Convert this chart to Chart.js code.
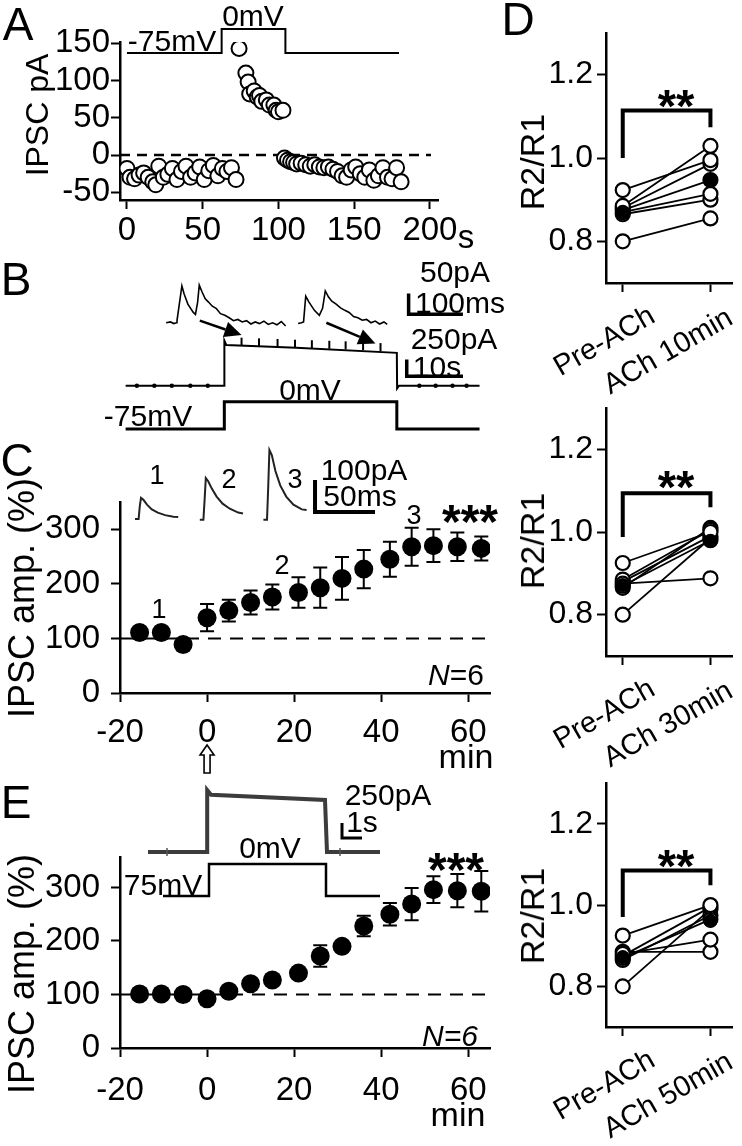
<!DOCTYPE html>
<html>
<head>
<meta charset="utf-8">
<script src="https://cdn.jsdelivr.net/npm/chart.js@4"></script>
<style>
  body { margin: 0; background: #fff; }
  #fig { position: relative; width: 742px; height: 1146px; overflow: hidden; font-family: 'Liberation Sans', Arial, sans-serif; color: #000; }
  #fig canvas { position: absolute; }
  .t { position: absolute; white-space: nowrap; line-height: 1; transform: translate(-50%, -50%); }
</style>
</head>
<body>
<div id="fig">
  <canvas id="cA" width="460" height="250" style="left:0;top:0"></canvas>
  <canvas id="cB" width="400" height="200" style="left:100px;top:250px"></canvas>
  <canvas id="cC" width="520" height="350" style="left:0;top:430px"></canvas>
  <canvas id="cE" width="520" height="376" style="left:0;top:770px"></canvas>
  <canvas id="cD1" width="242" height="400" style="left:500px;top:0"></canvas>
  <canvas id="cD2" width="242" height="400" style="left:500px;top:380px"></canvas>
  <canvas id="cD3" width="242" height="386" style="left:500px;top:760px"></canvas>
</div>
<script>
// ===== DATA =====

// A: IPSC amplitude (pA) vs time (s), holding potential switched -75 -> 0 -> -75 mV
const A_PRE_T  = [0, 2, 5, 8, 11, 14, 17, 19, 21, 24, 27, 30, 33, 36, 39, 42, 45, 48, 51, 54, 57, 60, 63, 66, 69, 72];
const A_PRE_PA = [-18, -30, -32, -27, -24, -30, -36, -40, -15, -30, -26, -18, -33, -22, -15, -30, -24, -16, -33, -21, -14, -28, -18, -22, -17, -33];
const A_HOLD_T  = [74, 78.5, 80, 81, 84, 86, 87.5, 89, 92, 94, 97, 98.5, 100, 103];
const A_HOLD_PA = [143, 110, 98, 82, 86, 78, 80, 72, 74, 67, 67, 60, 58, 60];
const A_POST_T  = [104, 106, 108, 110, 112, 115, 118, 121, 124, 127, 130, 133, 136, 139, 142, 145, 148, 151, 154, 157, 160, 163, 166, 169, 172, 175, 178, 181];
const A_POST_PA = [-4, -7, -9, -10, -12, -11, -13, -15, -13, -16, -17, -16, -19, -22, -28, -30, -20, -16, -25, -30, -20, -34, -28, -17, -30, -32, -17, -36];
const A_STEP_T  = [0, 62.5, 62.5, 104.6, 104.6, 179.6];
const A_STEP_MV = [-75, -75, 0, 0, -75, -75];
const A_X_TICKS = [0, 50, 100, 150, 200];
const A_Y_TICKS = [-50, 0, 50, 100, 150];

// B: example current trace (s, pA), holding step (mV), expanded sweeps (ms, pA)
const B_TRACE_T  = [-0.3, 17.2, 17.25, 17.6, 30, 47.9, 47.95, 48.3, 62.6];
const B_TRACE_PA = [0, 0, 667, 600, 560, 486, -40, 0, 0];
const B_TOP_EVENT_T  = [20.3, 23.4, 26.7, 29.8, 32.8, 35.9, 38.8, 41.9, 45.0];
const B_TOP_EVENT_PA = [651, 641, 631, 621, 613, 605, 597, 584, 571];
const B_BASE_EVENT_T  = [1.7, 4.8, 7.9, 11.2, 14.3, 51.9, 54.8, 57.8, 60.3];
const B_BASE_EVENT_PA = [0, 0, 0, 0, 0, 0, 0, 0, 0];
const B_STEP_T  = [-0.3, 17.24, 17.24, 47.9, 47.9, 62.6];
const B_STEP_MV = [-75, -75, 0, 0, -75, -75];
const B_SWEEP1_MS = [0, 8, 14, 19, 20, 29, 33, 40, 50, 54, 58, 61, 66, 72, 78, 85, 92, 100, 108, 116, 124, 132, 140, 148, 156, 164, 172, 180, 188, 196, 204, 212, 220];
const B_SWEEP1_PA = [0, 2, -2, 0, 5, 89, 70, 45, 25, 20, 50, 91, 75, 58, 50, 40, 35, 22, 18, 12, 5, 8, 2, 5, -3, 2, -2, 4, -4, 0, -5, 3, -8];
const B_SWEEP2_MS = [243, 249, 253, 257, 263, 273, 282, 288, 293, 299, 305, 313, 321, 329, 337, 345, 353, 361, 369, 377, 385, 393, 401, 407];
const B_SWEEP2_PA = [-2, 0, 2, 64, 50, 30, 18, 35, 77, 62, 52, 45, 36, 30, 25, 15, 12, 6, 8, 0, 4, -3, 2, -4];
const B_ARROW_FROM_MS = [62, 295];
const B_ARROW_FROM_PA = [5, 0];
const B_ARROW_TO_S  = [20.3, 44.1];
const B_ARROW_TO_PA = [750, 625];
const B_BAR_S  = [59.66, 49.66, 49.66];
const B_BAR_PA = [139, 139, 389];
const B_IBAR_MS = [546.4, 446.4, 446.4];
const B_IBAR_PA = [20.5, 20.5, 70.5];

// C: normalized IPSC amplitude (%) vs time (min), mean +/- SEM
const C_T    = [-15.5, -10.5, -5.5, 0, 5, 10, 15, 21, 26, 31, 36, 42, 47, 52, 57.5, 63];
const C_MEAN = [111, 111, 89, 138, 151, 166, 176, 184, 193, 210, 227, 245, 268, 270, 268, 265];
const C_SEM  = [5, 5, 5, 25, 20, 22, 23, 28, 37, 39, 35, 32, 35, 30, 26, 22];
const C_SWEEP_MS = [0, 3, 4, 5, 7, 10, 14, 19, 25, 32, 36];
const C_SWEEP1_PA = [0, 0, 40, 66, 60, 45, 30, 20, 12, 7, 6];
const C_SWEEP2_PA = [-2, -2, 60, 128, 118, 95, 70, 48, 32, 20, 17];
const C_SWEEP3_PA = [-2, -2, 100, 216, 200, 150, 105, 70, 45, 30, 28];
const C_SWEEP_OFFSET_MS = [0, 54, 107];
const C_BAR_MS = [200, 150, 150];
const C_BAR_PA = [22, 22, 122];
const X_TICKS_MIN = [-20, 0, 20, 40, 60];
const Y_TICKS_PCT = [0, 100, 200, 300];

// E: normalized IPSC amplitude (%) vs time (min), mean +/- SEM
const E_T    = [-15.5, -10.5, -5.5, 0, 5, 10, 15, 21, 26, 31, 36, 42, 47, 52, 57.5, 63];
const E_MEAN = [101, 101, 100, 92, 106, 120, 127, 140, 172, 190, 228, 250, 269, 296, 294, 293];
const E_SEM  = [3, 3, 3, 3, 3, 4, 4, 5, 20, 8, 19, 21, 30, 25, 31, 38];
const E_TRACE_T  = [0, 2.95, 2.96, 3.15, 8.85, 8.95, 11.6];
const E_TRACE_PA = [0, 0, 1033, 955, 867, 0, 0];
const E_MARK_T  = [0.95, 5.0, 7.1, 9.6];
const E_MARK_PA = [0, 930, 895, 0];
const E_STEP_T  = [0.75, 3.05, 3.05, 8.9, 8.9, 11.6];
const E_STEP_MV = [-75, -75, 0, 0, -75, -75];
const E_BAR_S  = [10.7, 9.7, 9.7];
const E_BAR_PA = [233, 233, 483];

// D: paired-pulse ratio R2/R1 per cell, before and after ACh
const D_CATS = ['Pre-ACh', 'ACh 10min', 'ACh 30min', 'ACh 50min'];
const D1_PRE  = [0.923, 0.885, 0.88, 0.875, 0.87, 0.865, 0.80];
const D1_POST = [0.995, 1.029, 0.986, 0.947, 0.914, 0.90, 0.855];
const D1_MEAN = [0.871, 0.947];
const D2_PRE  = [0.925, 0.875, 0.885, 0.88, 0.87, 0.865, 0.80];
const D2_POST = [1.0, 0.888, 1.005, 0.99, 0.98, 1.01, 0.985];
const D2_MEAN = [0.872, 0.979];
const D3_PRE  = [0.925, 0.88, 0.885, 0.875, 0.87, 0.865, 0.80];
const D3_POST = [1.0, 0.915, 0.885, 0.995, 0.965, 0.975, 0.99];
const D3_MEAN = [0.872, 0.961];
const D_Y_TICKS = [0.8, 1.0, 1.2];
const D_BRACKET = [[1.0, 1.114, 1.074], [0.988, 1.094, 1.06], [0.971, 1.085, 1.049]];

// ===== HELPERS =====
const BLACK = '#000';
const FONT = "'Liberation Sans', Arial, sans-serif";
Chart.defaults.font.family = FONT;
Chart.defaults.color = BLACK;

const xy = (xs, ys) => xs.map((x, i) => ({ x, y: ys[i] }));

function shownAxis(position, min, max, ticks, size, o = {}) {
  return {
    type: 'linear', position, min, max,
    afterBuildTicks: s => { s.ticks = ticks.map(v => ({ value: v })); },
    afterFit: s => { if (position === 'left') s.width = size; else s.height = size; },
    border: { display: true, color: BLACK, width: 2.5 },
    grid: { drawOnChartArea: false, tickLength: o.tickLength || 9, tickWidth: 2, tickColor: BLACK },
    ticks: {
      display: o.labels !== false, font: { size: o.font || 33 }, color: BLACK,
      padding: o.padding || 0, autoSkip: false, maxRotation: 0, minRotation: 0,
      callback: o.fmt || (v => String(v))
    }
  };
}
const hiddenAxis = (position, min, max) => ({ type: 'linear', display: false, position, min, max });

function line(data, o) {
  return Object.assign({ data, showLine: true, pointRadius: 0, borderColor: BLACK, borderWidth: 2, clip: false, tension: 0 }, o);
}
function openPts(data, r) {
  return { data, pointRadius: r, pointBorderWidth: 2, pointBorderColor: BLACK, pointBackgroundColor: '#fff', showLine: false };
}
function filledPts(data, r) {
  return { data, pointRadius: r, pointBorderWidth: 0, pointBackgroundColor: BLACK, showLine: false };
}

function makeChart(id, datasets, scales, padding, plugins) {
  return new Chart(document.getElementById(id), {
    type: 'scatter',
    data: { datasets },
    options: {
      responsive: false, animation: false, devicePixelRatio: 1, events: [],
      layout: { padding },
      scales,
      plugins: { legend: { display: false }, tooltip: { enabled: false } }
    },
    plugins: plugins || []
  });
}

function errorBars(ts, means, sems) {
  return {
    id: 'errorBars',
    beforeDatasetsDraw(chart) {
      const { ctx, scales: { x, y } } = chart;
      ctx.save();
      ctx.strokeStyle = BLACK; ctx.lineWidth = 2;
      ts.forEach((t, i) => {
        const px = x.getPixelForValue(t);
        const top = y.getPixelForValue(means[i] + sems[i]);
        const bot = y.getPixelForValue(means[i] - sems[i]);
        ctx.beginPath();
        ctx.moveTo(px, top); ctx.lineTo(px, bot);
        ctx.moveTo(px - 7, top); ctx.lineTo(px + 7, top);
        ctx.moveTo(px - 7, bot); ctx.lineTo(px + 7, bot);
        ctx.stroke();
      });
      ctx.restore();
    }
  };
}

// ===== PANEL A =====
makeChart('cA', [
  openPts(xy(A_PRE_T, A_PRE_PA), 7.5),
  openPts(xy(A_HOLD_T, A_HOLD_PA), 7.5),
  openPts(xy(A_POST_T, A_POST_PA), 7.5),
  line([{ x: -4.6, y: 0 }, { x: 200.7, y: 0 }], { borderDash: [10, 7], borderWidth: 2.5 }),
  line(xy(A_STEP_T, A_STEP_MV), { yAxisID: 'yv', borderWidth: 2 })
], {
  x: shownAxis('bottom', -4.6, 205.9, A_X_TICKS, 50, { padding: 2 }),
  y: shownAxis('left', -60.4, 151.7, A_Y_TICKS, 120, { padding: 1 }),
  yv: hiddenAxis('left', -534.4, -40.6)
}, { top: 42, right: 20, left: 0, bottom: 0 });

// ===== PANEL B =====
const arrowPlugin = {
  id: 'arrows',
  afterDatasetsDraw(chart) {
    const { ctx, scales: { xb, yb, xi, yi } } = chart;
    ctx.save();
    ctx.strokeStyle = BLACK; ctx.fillStyle = BLACK; ctx.lineWidth = 2.5;
    B_ARROW_FROM_MS.forEach((ms, i) => {
      const x0 = xi.getPixelForValue(ms), y0 = yi.getPixelForValue(B_ARROW_FROM_PA[i]);
      const x1 = xb.getPixelForValue(B_ARROW_TO_S[i]), y1 = yb.getPixelForValue(B_ARROW_TO_PA[i]);
      const a = Math.atan2(y1 - y0, x1 - x0), head = 17, half = 8;
      const bx = x1 - head * Math.cos(a), by = y1 - head * Math.sin(a);
      ctx.beginPath(); ctx.moveTo(x0, y0); ctx.lineTo(bx, by); ctx.stroke();
      ctx.beginPath();
      ctx.moveTo(x1, y1);
      ctx.lineTo(bx + half * Math.sin(a), by - half * Math.cos(a));
      ctx.lineTo(bx - half * Math.sin(a), by + half * Math.cos(a));
      ctx.closePath(); ctx.fill();
    });
    ctx.restore();
  }
};
makeChart('cB', [
  { data: xy(B_BASE_EVENT_T, B_BASE_EVENT_PA), xAxisID: 'xb', yAxisID: 'yb', pointRadius: 2.2, pointBackgroundColor: BLACK, pointBorderWidth: 0, clip: false },
  { data: xy(B_TOP_EVENT_T, B_TOP_EVENT_PA), xAxisID: 'xb', yAxisID: 'yb', pointStyle: 'line', pointRotation: 90, pointRadius: 4, pointBorderColor: BLACK, pointBorderWidth: 2, clip: false },
  line(xy(B_TRACE_T, B_TRACE_PA), { xAxisID: 'xb', yAxisID: 'yb', borderWidth: 2 }),
  line(xy(B_STEP_T, B_STEP_MV), { xAxisID: 'xb', yAxisID: 'yv', borderWidth: 3 }),
  line(xy(B_SWEEP1_MS, B_SWEEP1_PA), { xAxisID: 'xi', yAxisID: 'yi', borderWidth: 1.6 }),
  line(xy(B_SWEEP2_MS, B_SWEEP2_PA), { xAxisID: 'xi', yAxisID: 'yi', borderWidth: 1.6 }),
  line(xy(B_BAR_S, B_BAR_PA), { xAxisID: 'xb', yAxisID: 'yb', borderWidth: 3.5 }),
  line(xy(B_IBAR_MS, B_IBAR_PA), { xAxisID: 'xi', yAxisID: 'yi', borderWidth: 3.5 })
], {
  xb: hiddenAxis('bottom', -3.79, 65.17),
  yb: hiddenAxis('left', -861.1, 1916.7),
  yv: hiddenAxis('left', -116.4, 400.8),
  xi: hiddenAxis('bottom', -110.7, 603.6),
  yi: hiddenAxis('left', -293.2, 161.4)
}, 0, [arrowPlugin]);

// ===== PANEL C =====
const upArrowPlugin = {
  id: 'upArrow',
  afterDraw(chart) {
    const { ctx, chartArea, scales: { x } } = chart;
    const px = x.getPixelForValue(0), y0 = chartArea.bottom + 52;
    ctx.save();
    ctx.strokeStyle = BLACK; ctx.lineWidth = 1.6; ctx.fillStyle = '#fff';
    ctx.beginPath();
    ctx.moveTo(px, y0); ctx.lineTo(px + 7, y0 + 10); ctx.lineTo(px + 3, y0 + 10);
    ctx.lineTo(px + 3, y0 + 28); ctx.lineTo(px - 3, y0 + 28); ctx.lineTo(px - 3, y0 + 10);
    ctx.lineTo(px - 7, y0 + 10); ctx.closePath(); ctx.fill(); ctx.stroke();
    ctx.restore();
  }
};
makeChart('cC', [
  filledPts(xy(C_T, C_MEAN), 9.5),
  line([{ x: -20, y: 100 }, { x: 65, y: 100 }], { borderDash: [13, 9], borderWidth: 2 }),
  line(xy(C_SWEEP_MS.map(t => t + C_SWEEP_OFFSET_MS[0]), C_SWEEP1_PA), { xAxisID: 'xi', yAxisID: 'yi', borderColor: '#222' }),
  line(xy(C_SWEEP_MS.map(t => t + C_SWEEP_OFFSET_MS[1]), C_SWEEP2_PA), { xAxisID: 'xi', yAxisID: 'yi', borderColor: '#222' }),
  line(xy(C_SWEEP_MS.map(t => t + C_SWEEP_OFFSET_MS[2]), C_SWEEP3_PA), { xAxisID: 'xi', yAxisID: 'yi', borderColor: '#222' }),
  line(xy(C_BAR_MS, C_BAR_PA), { xAxisID: 'xi', yAxisID: 'yi', borderWidth: 4 })
], {
  x: shownAxis('bottom', -20, 65, X_TICKS_MIN, 87, { padding: 11 }),
  y: shownAxis('left', 0, 350, Y_TICKS_PCT, 120, { padding: 11 }),
  xi: hiddenAxis('bottom', -12.5, 295.8),
  yi: hiddenAxis('left', -543.75, 53.1)
}, { top: 72, right: 30, left: 0, bottom: 0 }, [errorBars(C_T, C_MEAN, C_SEM), upArrowPlugin]);

// ===== PANEL E =====
makeChart('cE', [
  filledPts(xy(E_T, E_MEAN), 9.5),
  line([{ x: -20, y: 100 }, { x: 65, y: 100 }], { borderDash: [13, 9], borderWidth: 2 }),
  { data: xy(E_MARK_T, E_MARK_PA), xAxisID: 'xe', yAxisID: 'ye', pointStyle: 'line', pointRotation: 90, pointRadius: 4, pointBorderColor: '#555', pointBorderWidth: 1.5, clip: false },
  line(xy(E_TRACE_T, E_TRACE_PA), { xAxisID: 'xe', yAxisID: 'ye', borderColor: '#3c3c3c', borderWidth: 4 }),
  line(xy(E_STEP_T, E_STEP_MV), { xAxisID: 'xe', yAxisID: 'yv', borderWidth: 2.5 }),
  line(xy(E_BAR_S, E_BAR_PA), { xAxisID: 'xe', yAxisID: 'ye', borderWidth: 3 })
], {
  x: shownAxis('bottom', -20, 65, X_TICKS_MIN, 98, { padding: 14 }),
  y: shownAxis('left', 0, 357, Y_TICKS_PCT, 120, { padding: 11 }),
  xe: hiddenAxis('bottom', -1.4, 17.1),
  ye: hiddenAxis('left', -3267, -83.3),
  yv: hiddenAxis('left', -431.2, 16.4)
}, { top: 87, right: 30, left: 0, bottom: 0 }, [errorBars(E_T, E_MEAN, E_SEM)]);

// ===== PANEL D =====
function dPanel(id, pre, post, mean, postLabel, bracket, padTop, xHeight) {
  const pairs = pre.map((v, i) => ({
    data: [{ x: 0, y: v }, { x: 1, y: post[i] }], showLine: true, borderColor: BLACK, borderWidth: 1.8,
    pointRadius: 7, pointBorderWidth: 2.2, pointBorderColor: BLACK, pointBackgroundColor: '#fff'
  }));
  const labels = [D_CATS[0], postLabel];
  const decor = {
    id: 'decor',
    afterDraw(chart) {
      const { ctx, chartArea, scales: { x, y } } = chart;
      const x0 = x.getPixelForValue(0), x1 = x.getPixelForValue(1);
      ctx.save();
      ctx.strokeStyle = BLACK; ctx.lineWidth = 4; ctx.lineCap = 'butt';
      ctx.beginPath();
      ctx.moveTo(x0, y.getPixelForValue(bracket[0]));
      ctx.lineTo(x0, y.getPixelForValue(bracket[1]));
      ctx.lineTo(x1, y.getPixelForValue(bracket[1]));
      ctx.lineTo(x1, y.getPixelForValue(bracket[2]));
      ctx.stroke();
      ctx.fillStyle = BLACK; ctx.font = '29px ' + FONT;
      ctx.textAlign = 'right'; ctx.textBaseline = 'alphabetic';
      const offs = [[34, 38], [24, 40]];
      labels.forEach((lab, i) => {
        ctx.save();
        ctx.translate(x.getPixelForValue(i) + offs[i][0], chartArea.bottom + offs[i][1]);
        ctx.rotate(-Math.PI / 6);
        ctx.fillText(lab, 0, 0);
        ctx.restore();
      });
      ctx.restore();
    }
  };
  makeChart(id, [filledPts(xy([0, 1], mean), 7), ...pairs], {
    x: shownAxis('bottom', -0.191, 1.255, [0, 1], xHeight, { labels: false }),
    y: shownAxis('left', 0.7, 1.3, D_Y_TICKS, 106, { padding: 4, font: 32, fmt: v => v.toFixed(1) })
  }, { top: padTop, right: 0, left: 0, bottom: 0 }, [decor]);
}
dPanel('cD1', D1_PRE, D1_POST, D1_MEAN, D_CATS[1], D_BRACKET[0], 33, 117);
dPanel('cD2', D2_PRE, D2_POST, D2_MEAN, D_CATS[2], D_BRACKET[1], 28, 124);
dPanel('cD3', D3_PRE, D3_POST, D3_MEAN, D_CATS[3], D_BRACKET[2], 18, 119);

// ===== TEXT =====
const fig = document.getElementById('fig');
function addText(html, x, y, size, extra) {
  const d = document.createElement('div');
  d.className = 't';
  d.innerHTML = html;
  d.style.left = x + 'px';
  d.style.top = y + 'px';
  d.style.fontSize = size + 'px';
  if (extra) Object.assign(d.style, extra);
  fig.appendChild(d);
}
const ROT = { transform: 'translate(-50%, -50%) rotate(-90deg)' };
const BOLD = { fontWeight: 'bold' };

// panel letters
addText('A', 18, 24, 46); addText('B', 16, 279, 46); addText('C', 17, 460, 46);
addText('D', 518, 19, 46); addText('E', 16, 802, 46);

// A
addText('IPSC pA', 37, 115, 32, ROT);
addText('-75mV', 172, 41, 30); addText('0mV', 253, 16, 30);
addText('s', 466, 236, 33);

// B
addText('50pA', 455, 272, 30); addText('100ms', 460, 303, 30);
addText('250pA', 454, 339, 30); addText('10s', 437, 367, 30);
addText('0mV', 310, 390, 30); addText('-75mV', 148, 416, 30);

// C
addText('IPSC amp. (%)', 22, 598, 36, ROT);
addText('1', 157, 475, 27); addText('2', 229, 479, 27); addText('3', 295, 479, 27);
addText('100pA', 364, 470, 30); addText('50ms', 360, 496, 30);
addText('1', 159, 609, 27); addText('2', 282, 565, 27); addText('3', 414, 515, 27);
addText('***', 470, 522, 48, BOLD);
addText('<i>N</i>=6', 456, 675, 30);
addText('min', 466, 756, 34);

// E
addText('IPSC amp. (%)', 22, 974, 36, ROT);
addText('250pA', 388, 795, 30); addText('1s', 362, 822, 30);
addText('0mV', 270, 848, 30); addText('75mV', 163, 885, 30);
addText('***', 456, 870, 48, BOLD);
addText('<i>N=6</i>', 450, 1036, 30);
addText('min', 458, 1114, 34);

// D
addText('R2/R1', 532, 162, 34, ROT); addText('R2/R1', 532, 541, 34, ROT); addText('R2/R1', 532, 916, 34, ROT);
addText('**', 676, 105, 47, BOLD); addText('**', 676, 486, 47, BOLD); addText('**', 676, 865, 47, BOLD);
</script>
</body>
</html>
